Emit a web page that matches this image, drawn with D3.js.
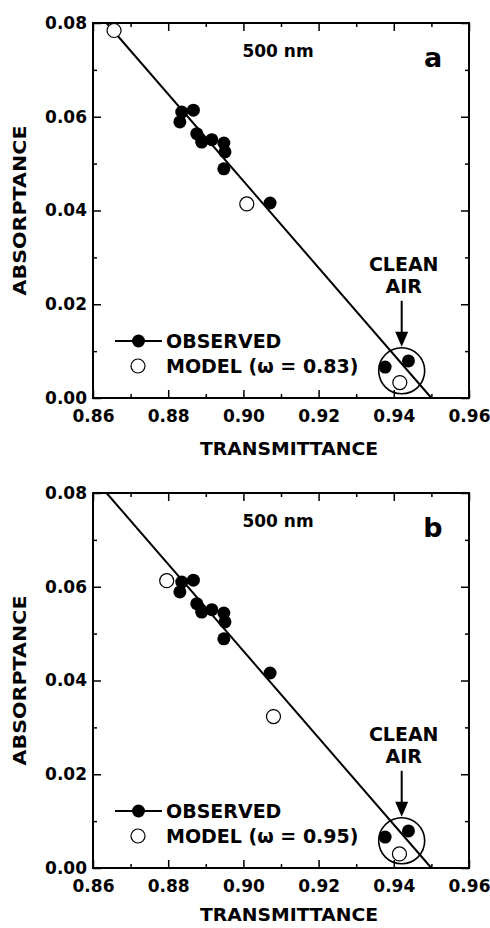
<!DOCTYPE html>
<html>
<head>
<meta charset="utf-8">
<script src="https://cdn.jsdelivr.net/npm/d3@7"></script>
<style>
  body { margin: 0; background: #fff; }
  svg text { font-family: "DejaVu Sans", sans-serif; font-weight: bold; fill: #000; }
</style>
</head>
<body>
<div id="chart"></div>
<script>
// —————————— DATA
// observed points, same in both panels
var obsT = [0.8836, 0.8867, 0.8831, 0.8876, 0.8889, 0.8916, 0.8948, 0.8951, 0.8948, 0.9071, 0.9377, 0.9439];
var obsA = [0.0610, 0.0614, 0.0589, 0.0564, 0.0546, 0.0551, 0.0544, 0.0525, 0.0489, 0.0416, 0.0066, 0.0079];

// model points, panel a (omega = 0.83)
var modelAT = [0.8656, 0.9009, 0.9416];
var modelAA = [0.0784, 0.0414, 0.0033];

// model points, panel b (omega = 0.95)
var modelBT = [0.8796, 0.9080, 0.9415];
var modelBA = [0.0613, 0.0323, 0.0030];

// fitted line through observations (end points)
var fitT = [0.8636, 0.9500];
var fitA = [0.08, 0.00];

// clean air ring centre
var cleanT = 0.9421, cleanA = 0.0058;

var xTicks = [0.86, 0.88, 0.90, 0.92, 0.94, 0.96];
var xMinor = [0.87, 0.89, 0.91, 0.93, 0.95];
var yTicks = [0.00, 0.02, 0.04, 0.06, 0.08];
var yMinor = [0.01, 0.03, 0.05, 0.07];

var panels = [
  {letter: "a", omega: "0.83", mT: modelAT, mA: modelAA, top: 23, titleY: 57},
  {letter: "b", omega: "0.95", mT: modelBT, mA: modelBA, top: 493, titleY: 53}
];

// —————————— LAYOUT
var margin = {left: 93},
    width = 376,
    height = 375;

var svg = d3.select("#chart")
  .append("svg")
    .attr("width", 490)
    .attr("height", 928);

var x = d3.scaleLinear().domain([0.86, 0.96]).range([0, width]);
var y = d3.scaleLinear().domain([0, 0.08]).range([height, 0]);

function drawPanel(p) {
  var g = svg.append("g")
    .attr("transform", "translate(" + margin.left + "," + p.top + ")");

  // axes, ticks pointing inward on all four sides
  g.append("g").attr("class", "ax")
    .attr("transform", "translate(0," + height + ")")
    .call(d3.axisBottom(x).tickValues(xTicks).tickSize(-8).tickPadding(12).tickFormat(d3.format(".2f")));
  g.append("g").attr("class", "ax")
    .attr("transform", "translate(0," + height + ")")
    .call(d3.axisBottom(x).tickValues(xMinor).tickSize(-4).tickFormat(""));
  g.append("g").attr("class", "ax")
    .call(d3.axisTop(x).tickValues(xTicks).tickSize(-8).tickFormat(""));
  g.append("g").attr("class", "ax")
    .call(d3.axisTop(x).tickValues(xMinor).tickSize(-4).tickFormat(""));
  g.append("g").attr("class", "ax")
    .call(d3.axisLeft(y).tickValues(yTicks).tickSize(-8).tickPadding(6).tickFormat(d3.format(".2f")));
  g.append("g").attr("class", "ax")
    .call(d3.axisLeft(y).tickValues(yMinor).tickSize(-4).tickFormat(""));
  g.append("g").attr("class", "ax")
    .attr("transform", "translate(" + width + ",0)")
    .call(d3.axisRight(y).tickValues(yTicks).tickSize(-8).tickFormat(""));
  g.append("g").attr("class", "ax")
    .attr("transform", "translate(" + width + ",0)")
    .call(d3.axisRight(y).tickValues(yMinor).tickSize(-4).tickFormat(""));

  g.selectAll(".ax .domain").remove();
  g.selectAll(".ax .tick line").attr("stroke", "#000").attr("stroke-width", 1.5);
  g.selectAll(".ax .tick text").style("font-size", "17px");

  g.append("rect")
    .attr("width", width)
    .attr("height", height)
    .attr("fill", "none")
    .attr("stroke", "#000")
    .attr("stroke-width", 2);

  // fitted line
  var line = d3.line()
    .x(function(d) { return x(d[0]); })
    .y(function(d) { return y(d[1]); });
  g.append("path")
    .datum(d3.zip(fitT, fitA))
    .attr("d", line)
    .attr("fill", "none")
    .attr("stroke", "#000")
    .attr("stroke-width", 2);

  // observed
  g.selectAll(".obs")
    .data(d3.zip(obsT, obsA))
    .enter()
    .append("circle")
      .attr("class", "obs")
      .attr("cx", function(d) { return x(d[0]); })
      .attr("cy", function(d) { return y(d[1]); })
      .attr("r", 6.5)
      .attr("fill", "#000");

  // model
  g.selectAll(".mod")
    .data(d3.zip(p.mT, p.mA))
    .enter()
    .append("circle")
      .attr("class", "mod")
      .attr("cx", function(d) { return x(d[0]); })
      .attr("cy", function(d) { return y(d[1]); })
      .attr("r", 7)
      .attr("fill", "#fff")
      .attr("stroke", "#000")
      .attr("stroke-width", 1.2);

  // clean air ring + arrow
  var cx = x(cleanT), cy = y(cleanA), rr = 23;
  g.append("circle")
    .attr("cx", cx).attr("cy", cy).attr("r", rr)
    .attr("fill", "none")
    .attr("stroke", "#000")
    .attr("stroke-width", 1.6);
  g.append("line")
    .attr("x1", cx).attr("x2", cx)
    .attr("y1", cy - rr - 47).attr("y2", cy - rr - 12)
    .attr("stroke", "#000").attr("stroke-width", 2);
  g.append("path")
    .attr("d", "M" + (cx - 6.5) + "," + (cy - rr - 16) + "L" + (cx + 6.5) + "," + (cy - rr - 16) + "L" + cx + "," + (cy - rr - 1) + "Z")
    .attr("fill", "#000");
  g.append("text")
    .attr("x", cx + 2).attr("y", cy - rr - 77)
    .attr("text-anchor", "middle")
    .style("font-size", "19px")
    .text("CLEAN");
  g.append("text")
    .attr("x", cx + 2).attr("y", cy - rr - 55)
    .attr("text-anchor", "middle")
    .style("font-size", "19px")
    .text("AIR");

  // legend
  var ly1 = height - 57, ly2 = height - 32;
  g.append("line")
    .attr("x1", 22).attr("x2", 69)
    .attr("y1", ly1).attr("y2", ly1)
    .attr("stroke", "#000").attr("stroke-width", 2);
  g.append("circle")
    .attr("cx", 45.5).attr("cy", ly1).attr("r", 6.5)
    .attr("fill", "#000");
  g.append("circle")
    .attr("cx", 45).attr("cy", ly2).attr("r", 7)
    .attr("fill", "#fff").attr("stroke", "#000").attr("stroke-width", 1.2);
  g.append("text")
    .attr("x", 73).attr("y", ly1).attr("dy", "0.36em")
    .style("font-size", "19px")
    .text("OBSERVED");
  g.append("text")
    .attr("x", 73).attr("y", ly2).attr("dy", "0.36em")
    .style("font-size", "19px")
    .text("MODEL (\u03c9 = " + p.omega + ")");

  // titles
  g.append("text")
    .attr("x", 185).attr("y", 34)
    .attr("text-anchor", "middle")
    .style("font-size", "17px")
    .text("500 nm");
  g.append("text")
    .attr("x", 340).attr("y", 44)
    .attr("text-anchor", "middle")
    .style("font-size", "27px")
    .text(p.letter);
  g.append("text")
    .attr("x", 196).attr("y", height + p.titleY)
    .attr("text-anchor", "middle")
    .attr("textLength", 178)
    .attr("lengthAdjust", "spacingAndGlyphs")
    .style("font-size", "18px")
    .text("TRANSMITTANCE");
  g.append("text")
    .attr("transform", "translate(-73," + (height / 2) + ") rotate(-90)")
    .attr("text-anchor", "middle")
    .attr("dy", "0.36em")
    .attr("textLength", 170)
    .attr("lengthAdjust", "spacingAndGlyphs")
    .style("font-size", "18px")
    .text("ABSORPTANCE");
}

panels.forEach(drawPanel);
</script>
</body>
</html>
